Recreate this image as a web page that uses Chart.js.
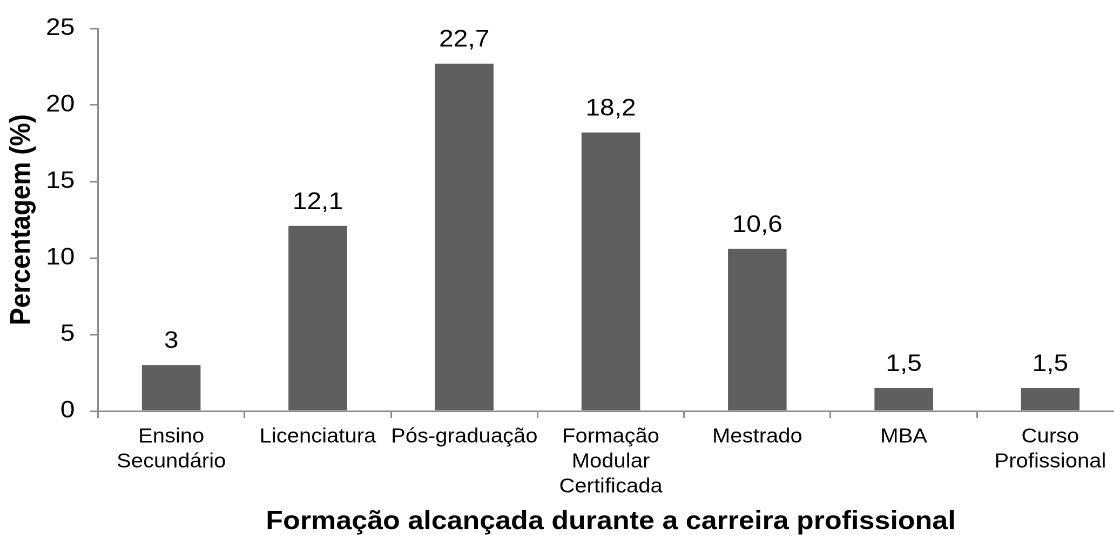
<!DOCTYPE html>
<html><head><meta charset="utf-8">
<script src="https://cdn.jsdelivr.net/npm/chart.js@4/dist/chart.umd.min.js"></script>
<style>
html,body{margin:0;padding:0;overflow:hidden;background:#fff;width:1114px;height:535px}
#wrap{position:absolute;left:0;top:0;width:1043px;height:535px;transform:scaleX(1.08);transform-origin:0 0}
</style></head><body>
<div id="wrap"><canvas id="c" style="width:1043px;height:535px"></canvas></div>
<script>
const categories = [["Ensino","Secundário"],"Licenciatura","Pós-graduação",["Formação","Modular","Certificada"],"Mestrado","MBA",["Curso","Profissional"]];
const values = [3, 12.1, 22.7, 18.2, 10.6, 1.5, 1.5];
const yTicks = [0, 5, 10, 15, 20, 25];
const xTitle = "Formação alcançada durante a carreira profissional";
const yTitle = "Percentagem (%)";

const FAM = '"Liberation Sans", Arial, Helvetica, sans-serif';
const AXIS = '#8c8c8c';

const labelPlugin = {
  id: 'vals',
  afterDatasetsDraw(chart) {
    const ctx = chart.ctx;
    const meta = chart.getDatasetMeta(0);
    ctx.save();
    ctx.font = '24px ' + FAM;
    ctx.fillStyle = '#000';
    ctx.textAlign = 'center';
    ctx.textBaseline = 'alphabetic';
    meta.data.forEach((bar, i) => {
      ctx.fillText(String(values[i]).replace('.', ','), bar.x, bar.y - 17);
    });
    ctx.restore();
  }
};

new Chart(document.getElementById('c'), {
  type: 'bar',
  data: {
    labels: categories,
    datasets: [{
      data: values,
      backgroundColor: '#5f5f5f',
      borderWidth: 0,
      barPercentage: 0.4,
      categoryPercentage: 1
    }]
  },
  options: {
    responsive: false,
    maintainAspectRatio: false,
    animation: false,
    devicePixelRatio: 2,
    layout: { padding: { left: 0, right: 2.7, top: 26.7, bottom: 0 } },
    plugins: { legend: { display: false }, tooltip: { enabled: false } },
    scales: {
      x: {
        grid: { offset: true, drawOnChartArea: false, drawTicks: true, tickLength: 7, color: AXIS, lineWidth: 1.5 },
        border: { color: AXIS, width: 1.5 },
        ticks: { color: '#000', font: { family: FAM, size: 20, lineHeight: 1.25 }, padding: 6.5, maxRotation: 0, autoSkip: false },
        title: { display: true, text: xTitle, color: '#000', font: { family: FAM, size: 26, weight: 'bold', lineHeight: 1 }, padding: { top: 1.1, bottom: 0 } },
        afterFit(s) { s.height = 124; }
      },
      y: {
        min: 0, max: 25,
        afterBuildTicks(s) { s.ticks = yTicks.map(v => ({ value: v })); },
        grid: { drawOnChartArea: false, drawTicks: true, tickLength: 7.4, color: AXIS, lineWidth: 1.5 },
        border: { color: AXIS, width: 1.5 },
        ticks: { color: '#000', font: { family: FAM, size: 24 }, padding: 14.1 },
        title: { display: true, text: yTitle, color: '#000', font: { family: FAM, size: 26, weight: 'bold', lineHeight: 1.2 }, padding: { top: 4.9, bottom: 0 } },
        afterFit(s) { s.width = 90.74; }
      }
    }
  },
  plugins: [labelPlugin]
});
</script>
</body></html>
